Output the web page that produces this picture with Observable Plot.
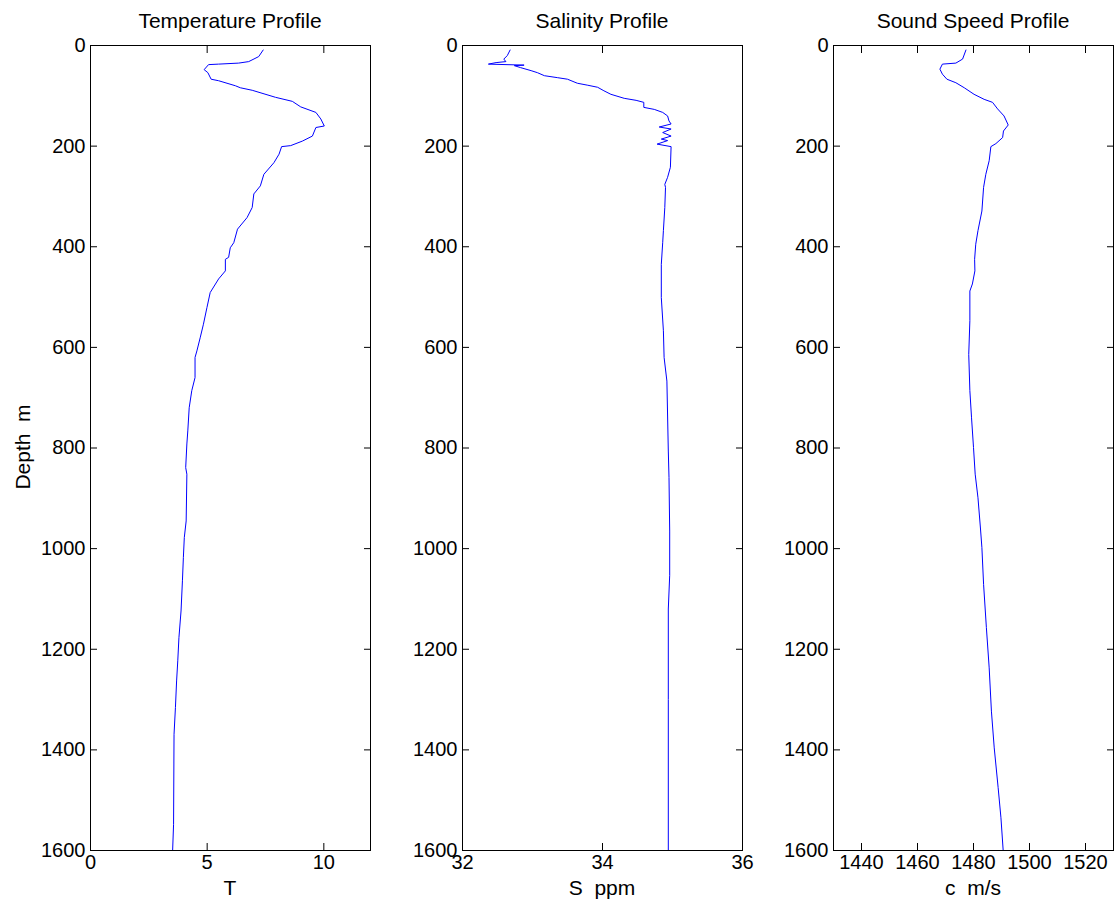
<!DOCTYPE html>
<html><head><meta charset="utf-8">
<script src="https://cdn.jsdelivr.net/npm/d3@7"></script>
<script src="https://cdn.jsdelivr.net/npm/@observablehq/plot@0.6"></script>
<style>
body{margin:0;width:1117px;height:907px;overflow:hidden;background:#fff;font-family:"Liberation Sans",Arial,sans-serif;position:relative}
.panel{position:absolute;top:0}
.lbl{position:absolute;font-size:21px;color:#000;white-space:pre;transform:translate(-50%,-50%);line-height:1}
</style></head><body>
<script>
const depthTicks = [0,200,400,600,800,1000,1200,1400,1600];

const tempTicks = [0,5,10];
const tempDepth = [9,22,32,35,37,38,48,54,67,70,80,84,89,103,111,122,133,146,160,163,180,190,199,201,216,233,256,279,295,322,342,365,392,402,421,425,448,464,491,521,554,581,607,620,660,686,720,766,792,839,852,945,978,1018,1064,1124,1177,1223,1263,1316,1369,1548,1600];
const temp = [7.40,7.21,6.78,6.35,5.49,5.06,4.87,5.03,5.17,5.49,6.21,6.42,6.93,7.93,8.65,9.01,9.66,9.87,10.02,9.66,9.51,9.08,8.58,8.19,8.08,7.86,7.43,7.28,7.00,6.93,6.71,6.30,6.14,5.99,5.92,5.78,5.78,5.49,5.13,4.99,4.84,4.70,4.56,4.48,4.48,4.34,4.23,4.17,4.13,4.08,4.13,4.10,4.02,3.98,3.94,3.88,3.79,3.74,3.69,3.64,3.58,3.56,3.52];

const salTicks = [32,34,36];
const salDepth = [9,20,27,32,34,37,39,40,44,50,54,60,64,67,75,79,83,90,97,105,109,113,123,127,133,140,150,156,162,166,173,180,186,189,196,201,242,262,276,282,322,368,392,435,501,567,620,667,806,859,965,1053,1120,1300,1600];
const sal = [32.68,32.64,32.59,32.62,32.48,32.37,32.88,32.74,32.83,32.98,33.07,33.17,33.36,33.50,33.64,33.79,33.93,34.02,34.12,34.31,34.48,34.59,34.59,34.74,34.86,34.93,34.95,34.98,34.81,34.98,34.86,34.98,34.84,34.93,34.78,34.98,34.97,34.93,34.89,34.90,34.89,34.87,34.86,34.84,34.84,34.87,34.88,34.92,34.94,34.95,34.96,34.96,34.94,34.94,34.94];

const speedTicks = [1440,1460,1480,1500,1520];
const speedDepth = [9,27,35,37,47,57,67,74,84,97,107,113,126,140,158,170,183,195,201,229,256,282,329,368,395,425,448,474,488,547,614,686,740,799,852,899,961,998,1071,1157,1237,1323,1396,1475,1535,1600];
const speed = [1477.3,1476.1,1473.7,1468.9,1468.0,1468.9,1470.5,1473.7,1476.7,1480.2,1483.8,1486.8,1488.6,1490.9,1492.4,1490.7,1490.4,1488.0,1486.2,1485.6,1484.4,1483.6,1483.0,1481.6,1480.8,1480.4,1480.5,1479.6,1478.7,1478.7,1478.3,1478.7,1479.3,1480.0,1480.6,1481.6,1482.5,1483.0,1483.6,1484.6,1485.6,1486.4,1487.4,1488.8,1489.8,1490.6];

const panels = [
  {left: 0, domain: [0,12], ticks: tempTicks, xs: temp, ys: tempDepth, title: "Temperature Profile", xlabel: "T"},
  {left: 372, domain: [32,36], ticks: salTicks, xs: sal, ys: salDepth, title: "Salinity Profile", xlabel: "S  ppm"},
  {left: 743, domain: [1430,1530], ticks: speedTicks, xs: speed, ys: speedDepth, title: "Sound Speed Profile", xlabel: "c  m/s"}
];

const ML = 90, MR = 4, MT = 45, MB = 57, W = 280 + ML + MR, H = 907;
const FS = 20;
const fmt = d => String(d);

for (const p of panels) {
  const chart = Plot.plot({
    width: W, height: H,
    marginLeft: ML, marginRight: MR, marginTop: MT, marginBottom: MB,
    style: {fontFamily: '"Liberation Sans", Arial, sans-serif', fontSize: FS + "px", color: "#000", background: "transparent", overflow: "visible"},
    x: {domain: p.domain},
    y: {domain: [0, 1600], reverse: true},
    marks: [
      Plot.axisX(p.ticks, {anchor: "bottom", tickSize: -7, tickPadding: 11, tickFormat: fmt, fontSize: FS, label: null}),
      Plot.axisX(p.ticks, {anchor: "top", tickSize: -7, tickFormat: () => "", label: null}),
      Plot.axisY(depthTicks, {anchor: "left", tickSize: -7, tickPadding: 12, tickFormat: fmt, fontSize: FS, label: null}),
      Plot.axisY(depthTicks, {anchor: "right", tickSize: -7, tickFormat: () => "", label: null}),
      Plot.line(p.xs.map((v, i) => ({v, d: p.ys[i]})), {x: "v", y: "d", stroke: "#0000ff", strokeWidth: 1}),
      Plot.frame({stroke: "#000", strokeWidth: 1})
    ]
  });
  chart.classList.add("panel");
  chart.style.left = p.left + "px";
  document.body.appendChild(chart);
  const cx = p.left + ML + 140;
  const t = document.createElement("div");
  t.className = "lbl"; t.textContent = p.title;
  t.style.left = cx + "px"; t.style.top = "20px";
  document.body.appendChild(t);
  const xl = document.createElement("div");
  xl.className = "lbl"; xl.textContent = p.xlabel;
  xl.style.left = cx + "px"; xl.style.top = "887px";
  document.body.appendChild(xl);
}
const yl = document.createElement("div");
yl.className = "lbl"; yl.textContent = "Depth  m";
yl.style.left = "22px"; yl.style.top = "447px";
yl.style.transform = "translate(-50%,-50%) rotate(-90deg)";
document.body.appendChild(yl);
</script>
</body></html>
